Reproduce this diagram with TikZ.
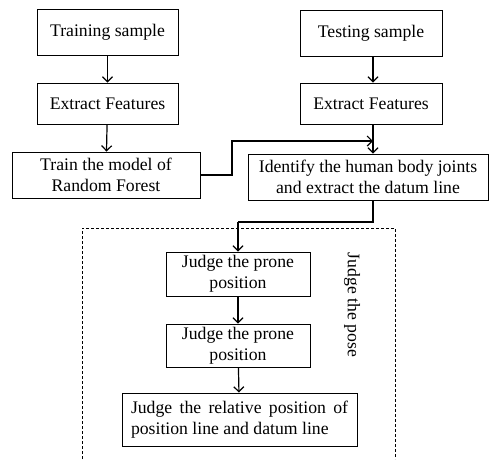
\documentclass[tikz,border=0pt]{standalone}
\usepackage{fontspec}
\setmainfont{Liberation Serif}
\usetikzlibrary{arrows.meta}
\begin{document}
\begin{tikzpicture}[x=1pt,y=-1pt,
  box/.style={draw, line width=0.9pt, align=center, inner sep=2pt, font=\fontsize{17.7}{21}\selectfont},
  conn/.style={line width=1.2pt, -{Straight Barb[length=5pt,width=10pt]}},
  plain/.style={line width=1.2pt}]
\useasboundingbox (0,0) rectangle (489,459);
\node[box, minimum width=141pt, minimum height=46pt] (train) at (107.5,32) {Training sample};
\node[box, minimum width=141pt, minimum height=41pt] (ext1) at (107.5,103.5) {Extract Features};
\node[box, minimum width=188pt, minimum height=46pt] (rf) at (106,175) {Train the model of\\Random Forest};
\node[box, minimum width=142pt, minimum height=46pt] (test) at (371,33) {Testing sample};
\node[box, minimum width=142pt, minimum height=41pt] (ext2) at (371,103.5) {Extract Features};
\node[box, minimum width=240pt, minimum height=46pt] (ident) at (368,177) {Identify the human body joints\\and extract the datum line};
\node[box, minimum width=144pt, minimum height=44pt] (j1) at (238,274) {Judge the prone\\position};
\node[box, minimum width=144pt, minimum height=43pt] (j2) at (238,345.5) {Judge the prone\\position};
\node[box, minimum width=235pt, minimum height=53pt, align=left] (j3) at (239.5,419.5) {\makebox[217pt][s]{Judge the relative position of}\\position line and datum line};
\node[rotate=-90, font=\fontsize{17.7}{21}\selectfont] (pose) at (352,305) {Judge the pose};
\draw[line width=0.8pt, dash pattern=on 3pt off 2pt] (82,459) -- (82,228) -- (395,228) -- (395,459);
\coordinate (c1) at (232,141);
\coordinate (c2) at (373,141);
\coordinate (c3) at (373,222);
\coordinate (c4) at (238,222);
\draw[conn] (train) -- (ext1);
\draw[conn] (ext1) -- (rf);
\draw[conn] (test.south -| c2) -- (ext2.north -| c2);
\draw[conn] (ext2.south -| c2) -- (ident.north -| c2);
\draw[conn] (rf.east) -| (c1) -- (c2);
\draw[plain] (ident.south -| c3) -- (c3) -- (c4);
\draw[conn] (c4) -- (j1.north);
\draw[conn] (j1) -- (j2);
\draw[conn] (j2) -- (j3);
\end{tikzpicture}
\end{document}
